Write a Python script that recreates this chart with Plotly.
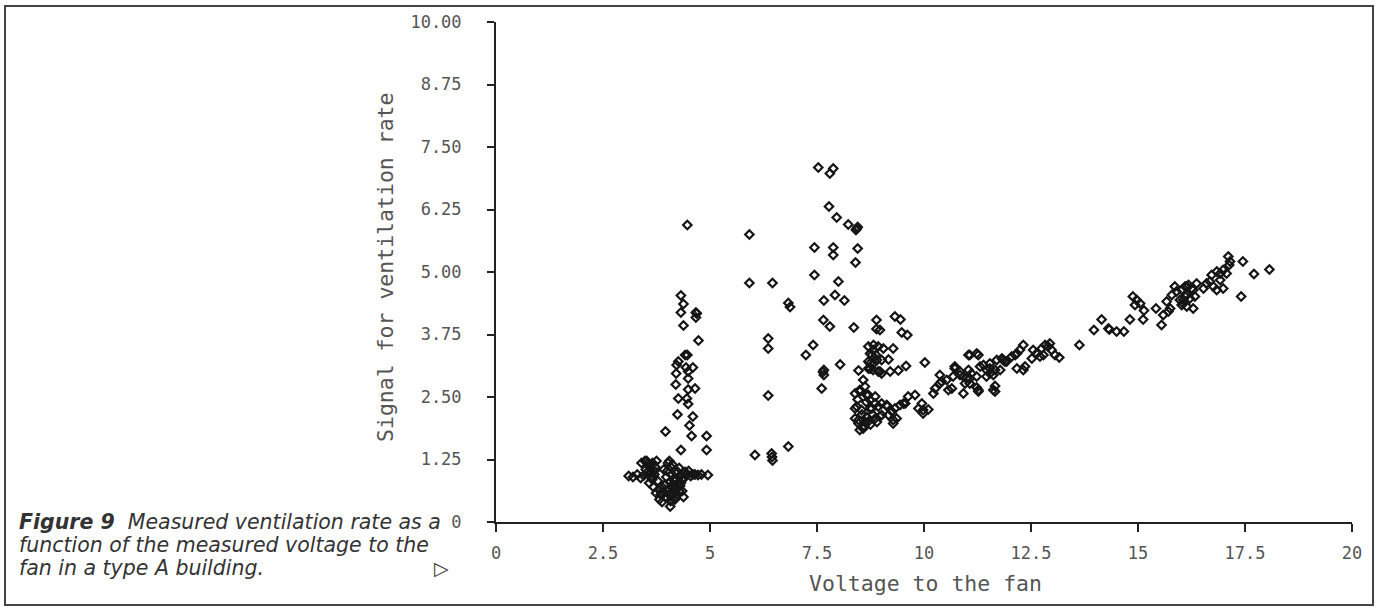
import plotly.graph_objects as go

# ---- data (Voltage to the fan, Signal for ventilation rate) ----
cluster_low = [
    (3.10,0.92),(3.20,0.90),(3.30,0.95),(3.38,0.88),(3.45,0.93),(3.50,1.05),(3.55,1.18),(3.52,1.22),
    (3.60,1.15),(3.62,1.00),(3.65,0.85),(3.58,0.78),(3.70,0.95),(3.72,1.10),(3.75,1.22),(3.68,0.70),
    (3.78,0.82),(3.80,0.65),(3.85,0.55),(3.82,0.45),(3.88,0.40),(3.92,0.60),(3.95,0.75),(3.98,0.90),
    (4.00,1.02),(4.02,1.18),(4.05,1.22),(4.08,1.10),(4.10,0.95),(4.06,0.80),(4.12,0.68),(4.15,0.55),
    (4.08,0.42),(4.07,0.31),(4.18,0.45),(4.20,0.70),(4.22,0.85),(4.25,1.00),(4.28,1.08),(4.30,0.92),
    (4.32,0.78),(4.35,0.62),(4.38,0.50),(4.40,0.88),(4.42,1.00),(4.45,0.95),(4.50,1.02),(4.55,0.92),
    (4.60,0.95),(4.65,0.95),(4.72,0.94),(4.80,0.95),(4.95,0.94),(3.40,1.18),(3.48,1.22),(4.12,1.15),
    (3.92,1.05),(4.28,0.62),(4.00,0.48),(3.74,0.58),(3.62,1.08),(3.56,0.95),(4.18,1.00),(4.25,0.78),
    (4.14,0.85),(3.88,0.70),(3.70,1.02),(4.02,0.62),(3.58,1.12),(3.64,0.92),(3.66,1.18),(3.54,1.00),
    (4.10,0.72),(4.16,0.62),(4.20,0.52),(4.24,0.68),(4.04,0.55),(3.96,0.50),(4.30,0.72),(4.34,0.85),
]
column_low = [
    (4.32,4.53),(4.38,4.36),(4.32,4.19),(4.67,4.19),(4.67,4.09),(4.69,4.17),(4.38,3.93),(4.73,3.63),
    (4.42,3.34),(4.47,3.34),(4.26,3.21),(4.22,3.14),(4.44,3.09),(4.60,3.09),(4.49,3.01),(4.49,2.87),
    (4.21,2.97),(4.20,2.75),(4.49,2.65),(4.65,2.67),(4.26,2.47),(4.46,2.47),(4.49,2.36),(4.24,2.15),
    (4.60,2.11),(4.52,1.93),(3.96,1.81),(4.57,1.72),(4.92,1.72),(4.32,1.44),(4.92,1.44),(4.47,5.94),
]
middle = [
    (5.92,5.75),(5.92,4.78),(6.46,4.78),(6.83,4.38),(6.87,4.30),(7.53,7.09),(7.88,7.07),(7.80,6.97),
    (7.78,6.31),(7.96,6.09),(8.23,5.95),(8.43,5.87),(8.45,5.90),(8.41,5.84),(7.44,5.49),(7.88,5.49),
    (7.88,5.34),(8.45,5.47),(8.40,5.19),(7.44,4.94),(8.00,4.81),(7.92,4.54),(7.66,4.43),(8.14,4.43),
    (6.36,3.67),(6.36,3.47),(7.41,3.54),(7.24,3.34),(7.65,4.04),(7.80,3.91),(8.36,3.89),(8.04,3.15),
    (7.66,3.04),(7.66,2.94),(7.64,3.00),(7.61,2.67),(8.47,3.03),(6.36,2.53),(6.05,1.34),(6.44,1.37),
    (6.46,1.23),(6.45,1.30),(6.83,1.51),
]
cluster_mid = [
    (8.89,4.04),(8.89,3.86),(8.97,3.84),(9.32,4.11),(9.45,4.05),(9.48,3.79),(9.61,3.74),(8.82,3.54),
    (8.93,3.51),(9.05,3.47),(9.28,3.47),(8.74,3.37),(8.88,3.34),(8.70,3.21),(8.82,3.17),(9.01,3.24),
    (9.17,3.25),(10.02,3.19),(8.74,3.07),(8.93,3.01),(9.21,3.01),(9.40,3.03),(9.58,3.12),(9.01,2.97),
    (8.58,2.84),(8.62,2.71),(8.50,2.64),(8.39,2.57),(8.66,2.54),(8.74,2.44),(8.86,2.37),(8.93,2.31),
    (8.39,2.27),(8.54,2.24),(8.74,2.27),(9.63,2.51),(9.79,2.54),(9.44,2.34),(9.56,2.37),(9.87,2.27),
    (9.98,2.24),(10.10,2.25),(9.95,2.37),(9.13,2.32),(9.25,2.21),(9.36,2.07),(9.28,1.97),(8.39,2.07),
    (8.47,1.97),(8.58,1.87),(8.50,1.84),(8.58,1.91),(8.70,2.01),(8.86,2.07),(8.97,2.11),(9.17,2.14),
    (9.28,2.04),(9.01,2.14),(9.01,2.37),(9.32,2.27),(9.52,2.37),(8.47,2.04),(8.43,2.31),(8.78,2.27),
    (9.13,2.34),(8.50,2.61),(8.70,2.54),(8.86,2.51),(8.97,3.01),(8.81,3.04),(8.70,3.07),(8.74,3.17),
    (8.90,3.24),(8.78,3.34),(8.81,3.44),(8.70,3.51),(9.98,2.17),(8.62,2.00),(8.75,1.95),(8.90,2.00),
    (8.66,2.10),(8.80,2.15),(8.55,2.15),(8.65,2.40),(8.45,2.45),
]
band_mid = [
    (10.22,2.57),(10.26,2.67),(10.37,2.77),(10.53,2.84),(10.68,2.91),(10.72,3.07),(10.41,2.81),(10.37,2.94),
    (10.57,2.64),(10.65,2.67),(10.72,3.11),(10.84,3.01),(10.92,2.91),(11.04,3.04),(10.96,2.77),(11.07,2.87),
    (11.11,2.97),(10.84,2.94),(10.99,2.87),(11.23,2.91),(11.07,2.77),(11.23,2.69),(10.92,2.57),(11.27,2.64),
    (11.27,2.61),(11.62,2.64),(11.66,2.61),(11.66,2.72),(11.04,3.34),(11.23,3.37),(11.07,3.34),(11.27,3.34),
    (11.31,3.11),(11.46,3.04),(11.54,3.17),(11.70,3.24),(11.82,3.27),(11.89,3.21),(12.05,3.31),(12.17,3.37),
    (11.46,2.91),(11.62,2.94),(11.78,3.04),(11.39,3.14),(11.54,2.97),(11.66,3.04),(11.54,3.07),(11.85,3.24),
    (11.93,3.21),(12.13,3.34),(12.17,3.07),(12.32,3.04),(12.36,3.11),(12.24,3.44),(12.32,3.54),(12.52,3.27),
    (12.55,3.44),(12.63,3.37),(12.75,3.47),(12.71,3.31),(12.83,3.54),(12.94,3.57),(12.98,3.44),(13.06,3.34),
    (13.16,3.29),(12.90,3.51),(12.79,3.34),
]
band_high = [
    (13.63,3.54),(13.97,3.84),(14.15,4.05),(14.33,3.85),(14.31,3.87),(14.50,3.81),(14.67,3.81),(14.81,4.05),
    (14.88,4.51),(14.97,4.44),(14.93,4.34),(15.05,4.37),(15.14,4.23),(15.12,4.05),(15.42,4.27),(15.55,3.94),
    (15.59,4.14),(15.67,4.41),(15.75,4.27),(15.71,4.21),(15.79,4.54),(15.86,4.71),(15.90,4.61),(16.02,4.64),
    (16.10,4.51),(16.06,4.37),(16.14,4.71),(15.98,4.44),(16.10,4.71),(16.18,4.74),(16.25,4.67),(16.14,4.54),
    (16.06,4.44),(16.21,4.47),(16.02,4.34),(16.14,4.31),(16.33,4.51),(16.29,4.64),(16.37,4.77),(16.29,4.27),
    (16.53,4.67),(16.60,4.77),(16.72,4.94),(16.84,5.01),(16.92,4.97),(16.99,5.04),(17.07,4.97),(16.76,4.71),
    (16.84,4.64),(16.99,4.67),(16.68,4.81),(16.92,4.84),(17.11,5.31),(17.15,5.21),(17.13,5.14),(17.45,5.21),
    (17.71,4.96),(18.07,5.05),(17.41,4.51),
]

groups = [cluster_low, column_low, middle, cluster_mid, band_mid, band_high]
voltage = [p[0] for g in groups for p in g]
signal = [p[1] for g in groups for p in g]

x_ticks = [0, 2.5, 5, 7.5, 10, 12.5, 15, 17.5, 20]
x_tick_text = ["0", "2.5", "5", "7.5", "10", "12.5", "15", "17.5", "20"]
y_ticks = [0, 1.25, 2.5, 3.75, 5, 6.25, 7.5, 8.75, 10]
y_tick_text = ["0", "1.25", "2.50", "3.75", "5.00", "6.25", "7.50", "8.75", "10.00"]

x_title = "Voltage to the fan"
y_title = "Signal for ventilation rate"
caption_lines = [
    "<b><i>Figure 9</i></b>  <i>Measured ventilation rate as a</i>",
    "<i>function of the measured voltage to the</i>",
    "<i>fan in a type A building.</i>",
]

# ---- figure geometry (body margin removed, so figure pixels = screen pixels) ----
W, H = 1377, 615
L, T = 496, 22
R = W - 1352
B = H - 522
pw, ph = W - L - R, H - T - B

def px(xp):  # screen pixel x -> paper
    return (xp - L) / pw

def py(yp):  # screen pixel y -> paper
    return (H - B - yp) / ph

fig = go.Figure()
fig.add_trace(go.Scatter(
    x=voltage, y=signal, mode="markers",
    marker=dict(symbol="diamond-open", size=6.5, color="#151515",
                line=dict(width=2.2, color="#151515")),
    showlegend=False, hoverinfo="x+y",
))

mono = "DejaVu Sans Mono"
annotations = [
    dict(text=y_title, xref="paper", yref="paper", x=px(385), y=py(267),
         textangle=-90, showarrow=False, xanchor="center", yanchor="middle",
         font=dict(family=mono, size=21.5, color="#555")),
    dict(text=x_title, xref="paper", yref="paper", x=px(925), y=py(583),
         showarrow=False, xanchor="center", yanchor="middle",
         font=dict(family=mono, size=21.5, color="#555")),
    dict(text="▷", xref="paper", yref="paper", x=px(441), y=py(568),
         showarrow=False, xanchor="center", yanchor="middle",
         font=dict(family="DejaVu Sans", size=19, color="#333")),
]
for i, line in enumerate(caption_lines):
    annotations.append(dict(text=line, xref="paper", yref="paper",
                            x=px(17), y=py(522 + 23 * i), showarrow=False,
                            xanchor="left", yanchor="middle", align="left",
                            font=dict(family="DejaVu Sans", size=20.5, color="#333")))

fig.update_layout(
    width=W, height=H,
    margin=dict(l=L, r=R, t=T, b=B, pad=0),
    paper_bgcolor="white", plot_bgcolor="white",
    xaxis=dict(range=[0, 20], tickvals=x_ticks, ticktext=x_tick_text,
               showgrid=False, zeroline=False, showline=True,
               linecolor="#222", linewidth=2, ticks="outside", ticklen=8,
               tickwidth=2, tickcolor="#222", ticklabelstandoff=7,
               tickfont=dict(family=mono, size=17, color="#555")),
    yaxis=dict(range=[0, 10], tickvals=y_ticks, ticktext=y_tick_text,
               showgrid=False, zeroline=False, showline=True,
               linecolor="#222", linewidth=2, ticks="outside", ticklen=7,
               tickwidth=2, tickcolor="#222", ticklabelstandoff=22,
               tickfont=dict(family=mono, size=17, color="#555")),
    annotations=annotations,
    shapes=[
        dict(type="rect", xref="paper", yref="paper",
             x0=px(5), x1=px(1373), y0=py(605), y1=py(6),
             line=dict(color="#444", width=2), fillcolor="rgba(0,0,0,0)", layer="below"),
    ],
)

fig.write_html("out.html",
               config={"displayModeBar": False},
               post_script="document.body.style.margin='0';"
                           "document.body.style.overflow='hidden';"
                           "document.documentElement.style.overflow='hidden';")
